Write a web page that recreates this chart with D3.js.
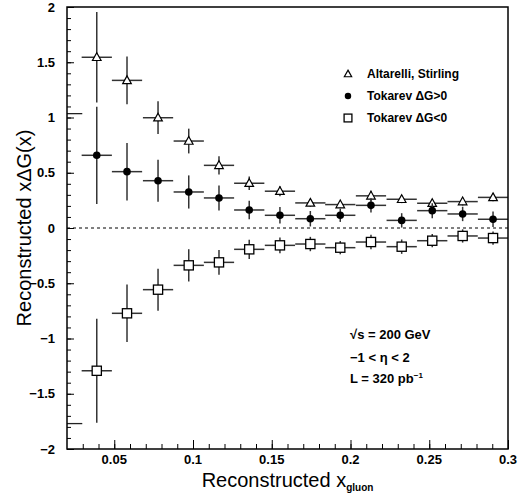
<!DOCTYPE html>
<html>
<head>
<meta charset="utf-8">
<script src="https://cdn.jsdelivr.net/npm/d3@7"></script>
<style>
  body { margin: 0; background: #fff; }
  text { font-family: "Liberation Sans", Arial, sans-serif; }
</style>
</head>
<body>
<div id="container"></div>
<script>
// bin centres (reconstructed x_gluon) and half bin width
var xCenters = [0.0389, 0.0581, 0.0778, 0.0973, 0.1165, 0.1357, 0.1552, 0.1745, 0.1935, 0.2130, 0.2325, 0.2519, 0.2712, 0.2905];
var xErr = 0.0096;

// Altarelli, Stirling
var altY   = [1.545, 1.336, 0.998, 0.787, 0.567, 0.405, 0.333, 0.227, 0.212, 0.291, 0.260, 0.224, 0.239, 0.277];
var altErr = [0.41, 0.215, 0.148, 0.112, 0.082, 0.062, 0.045, 0.035, 0.03, 0.045, 0.035, 0.03, 0.035, 0.035];

// Tokarev dG>0
var posY   = [0.658, 0.510, 0.428, 0.326, 0.272, 0.163, 0.115, 0.084, 0.115, 0.205, 0.069, 0.157, 0.127, 0.079];
var posErr = [0.44, 0.26, 0.19, 0.15, 0.113, 0.083, 0.075, 0.07, 0.06, 0.065, 0.065, 0.068, 0.065, 0.07];

// Tokarev dG<0
var negY   = [-1.292, -0.772, -0.558, -0.338, -0.311, -0.193, -0.157, -0.145, -0.178, -0.127, -0.169, -0.115, -0.072, -0.091];
var negErr = [0.47, 0.26, 0.19, 0.146, 0.112, 0.087, 0.072, 0.065, 0.06, 0.065, 0.065, 0.06, 0.06, 0.06];

// stray marks near the y axis in the original scan
var strayY = [1.035, -1.77];
var strayX = [0.02, 0.0297];

var xTicks = [0.05, 0.1, 0.15, 0.2, 0.25, 0.3];
var yTicks = [-2, -1.5, -1, -0.5, 0, 0.5, 1, 1.5, 2];

var legendLabels = ["Altarelli, Stirling", "Tokarev \u0394G>0", "Tokarev \u0394G<0"];

const margin = { top: 7, right: 10, bottom: 49, left: 67 },
    W = 518, H = 498,
    width = W - margin.left - margin.right,
    height = H - margin.top - margin.bottom;

var svg = d3.select("#container")
    .append("svg")
    .attr("width", W)
    .attr("height", H);

var g = svg.append("g")
    .attr("transform", "translate(" + margin.left + "," + margin.top + ")");

var x = d3.scaleLinear().domain([0.02, 0.3]).range([0, width]);
var y = d3.scaleLinear().domain([-2, 2]).range([height, 0]);

// minor ticks inside the frame
var xMinor = d3.range(3, 31).map(function (d) { return d / 100; });
var yMinor = d3.range(-20, 21).map(function (d) { return d / 10; });

g.append("g")
    .attr("transform", "translate(0," + height + ")")
    .call(d3.axisTop(x).tickValues(xMinor).tickSize(5).tickFormat(""))
    .call(function (a) { a.select(".domain").remove(); });

g.append("g")
    .attr("transform", "translate(0," + height + ")")
    .call(d3.axisTop(x).tickValues(xTicks).tickSize(9).tickFormat(""))
    .call(function (a) { a.select(".domain").remove(); });

g.append("g")
    .call(d3.axisRight(y).tickValues(yMinor).tickSize(4).tickFormat(""))
    .call(function (a) { a.select(".domain").remove(); });

g.append("g")
    .call(d3.axisRight(y).tickValues(yTicks).tickSize(7).tickFormat(""))
    .call(function (a) { a.select(".domain").remove(); });

g.selectAll(".tick line").attr("stroke", "#000").attr("stroke-width", 1);

// tick labels
g.selectAll(".xlab")
    .data(xTicks)
    .enter().append("text")
    .attr("x", function (d) { return x(d); })
    .attr("y", height + 15)
    .attr("text-anchor", "middle")
    .style("font-size", "13px")
    .style("font-weight", "bold")
    .text(function (d) { return d; });

g.selectAll(".ylab")
    .data(yTicks)
    .enter().append("text")
    .attr("x", -12)
    .attr("y", function (d) { return y(d); })
    .attr("dy", "0.35em")
    .attr("text-anchor", "end")
    .style("font-size", "13px")
    .style("font-weight", "bold")
    .text(function (d) { return d < 0 ? "\u2212" + Math.abs(d) : d; });

// zero line
g.append("line")
    .attr("x1", 0).attr("x2", width)
    .attr("y1", y(0)).attr("y2", y(0))
    .attr("stroke", "#000")
    .attr("stroke-width", 1)
    .attr("stroke-dasharray", "3,3");

// stray marks
g.selectAll(".stray")
    .data(strayY)
    .enter().append("line")
    .attr("x1", x(strayX[0])).attr("x2", x(strayX[1]))
    .attr("y1", function (d) { return y(d); })
    .attr("y2", function (d) { return y(d); })
    .attr("stroke", "#222")
    .attr("stroke-width", 1.3);

var series = [
    { name: legendLabels[0], ys: altY, errs: altErr, marker: "triangle" },
    { name: legendLabels[1], ys: posY, errs: posErr, marker: "circle" },
    { name: legendLabels[2], ys: negY, errs: negErr, marker: "square" }
];

function drawMarker(sel, type, small)
{
    var s = small ? 0.85 : 1;
    if (type === "circle")
    {
        sel.append("circle").attr("r", 3.8 * s).attr("fill", "#000");
    }
    else if (type === "square")
    {
        var h = 4.6 * s;
        sel.append("rect")
            .attr("x", -h).attr("y", -h)
            .attr("width", 2 * h).attr("height", 2 * h)
            .attr("fill", "#fff").attr("stroke", "#000").attr("stroke-width", 1.3);
    }
    else
    {
        var t = 4.3 * s;
        sel.append("path")
            .attr("d", "M0," + (-t * 1.05) + "L" + t + "," + (t * 0.75) + "L" + (-t) + "," + (t * 0.75) + "Z")
            .attr("fill", "#fff").attr("stroke", "#000").attr("stroke-width", 1.2);
    }
}

var clip = function (v) { return Math.max(0.02, Math.min(0.3, v)); };

series.forEach(function (s)
{
    var data = xCenters.map(function (xc, i) { return { x: xc, y: s.ys[i], e: s.errs[i] }; });
    var layer = g.append("g");

    layer.selectAll(".hbar")
        .data(data)
        .enter().append("line")
        .attr("x1", function (d) { return x(clip(d.x - xErr)); })
        .attr("x2", function (d) { return x(clip(d.x + xErr)); })
        .attr("y1", function (d) { return y(d.y); })
        .attr("y2", function (d) { return y(d.y); })
        .attr("stroke", "#333")
        .attr("stroke-width", 1.5);

    layer.selectAll(".vbar")
        .data(data)
        .enter().append("line")
        .attr("x1", function (d) { return x(d.x); })
        .attr("x2", function (d) { return x(d.x); })
        .attr("y1", function (d) { return y(d.y + d.e); })
        .attr("y2", function (d) { return y(d.y - d.e); })
        .attr("stroke", "#333")
        .attr("stroke-width", 1.5);

    layer.selectAll(".mk")
        .data(data)
        .enter().append("g")
        .attr("transform", function (d) { return "translate(" + x(d.x) + "," + y(d.y) + ")"; })
        .each(function () { drawMarker(d3.select(this), s.marker, false); });
});

// frame
g.append("rect")
    .attr("x", 0).attr("y", 0)
    .attr("width", width).attr("height", height)
    .attr("fill", "none")
    .attr("stroke", "#000")
    .attr("stroke-width", 1.5);

// legend
var legend = g.append("g").attr("transform", "translate(" + (348 - margin.left) + "," + (74 - margin.top) + ")");
series.forEach(function (s, i)
{
    var row = legend.append("g").attr("transform", "translate(0," + (i * 22) + ")");
    drawMarker(row, s.marker, true);
    row.append("text")
        .attr("x", 19)
        .attr("y", 4)
        .style("font-size", "12px")
        .style("font-weight", "bold")
        .text(s.name);
});

// annotation
var ann = g.append("g").attr("transform", "translate(" + (350 - margin.left) + ",0)");
ann.append("text").attr("y", 339 - margin.top)
    .style("font-size", "13px").style("font-weight", "bold")
    .text("\u221As = 200 GeV");
ann.append("text").attr("y", 362 - margin.top)
    .style("font-size", "13px").style("font-weight", "bold")
    .text("\u22121 < \u03B7 < 2");
var lum = ann.append("text").attr("y", 383 - margin.top)
    .style("font-size", "13px").style("font-weight", "bold");
lum.append("tspan").text("L = 320 pb");
lum.append("tspan").attr("dy", -5).style("font-size", "8px").text("\u22121");

// axis titles
var xt = svg.append("text")
    .attr("x", (margin.left + W - margin.right) / 2)
    .attr("y", 487)
    .attr("text-anchor", "middle")
    .style("font-size", "20px");
xt.append("tspan").text("Reconstructed x");
xt.append("tspan").attr("dy", 4).style("font-size", "10px").style("font-weight", "bold").text("gluon");

svg.append("text")
    .attr("transform", "translate(31," + (margin.top + height / 2) + ") rotate(-90)")
    .attr("text-anchor", "middle")
    .style("font-size", "20px")
    .text("Reconstructed x\u0394G(x)");
</script>
</body>
</html>
